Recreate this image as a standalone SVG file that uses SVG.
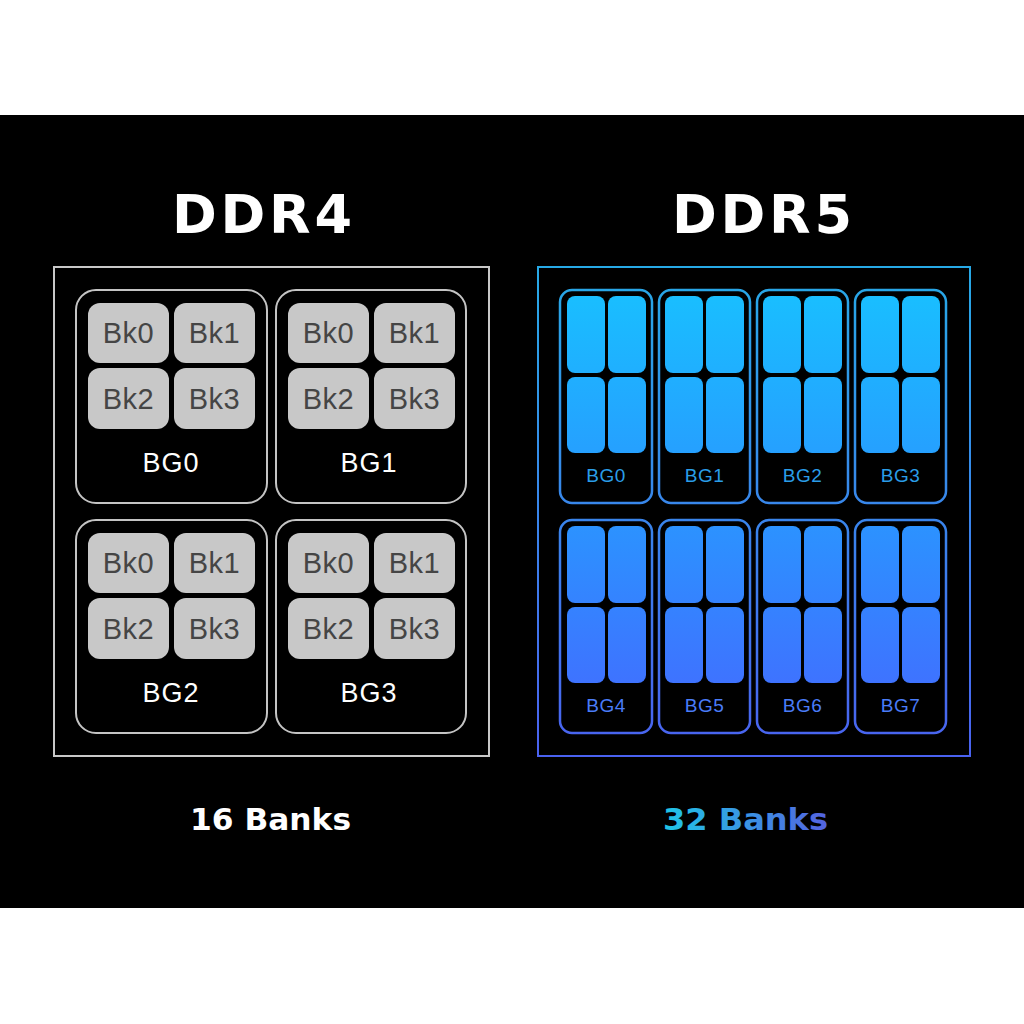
<svg xmlns="http://www.w3.org/2000/svg" width="1024" height="1024" viewBox="0 0 1024 1024">
<defs>
<linearGradient id="bankGrad" gradientUnits="userSpaceOnUse" x1="0" y1="290" x2="0" y2="733">
<stop offset="0" stop-color="#19bfff"/>
<stop offset="0.5" stop-color="#2a95ff"/>
<stop offset="1" stop-color="#4469ff"/>
</linearGradient>
<linearGradient id="strokeGrad" gradientUnits="userSpaceOnUse" x1="0" y1="267" x2="0" y2="756">
<stop offset="0" stop-color="#27a9e6"/>
<stop offset="1" stop-color="#4a62f0"/>
</linearGradient>
<linearGradient id="textGrad" gradientUnits="userSpaceOnUse" x1="663" y1="0" x2="828" y2="0">
<stop offset="0" stop-color="#1fc6e6"/>
<stop offset="1" stop-color="#5462e0"/>
</linearGradient>
</defs>
<style>
.title{font-family:"DejaVu Sans","Liberation Sans",sans-serif;font-weight:bold;font-size:54px;fill:#ffffff;text-anchor:middle}
.count{font-family:"DejaVu Sans","Liberation Sans",sans-serif;font-weight:bold;font-size:31px;text-anchor:middle}
.g4{fill:#000;stroke:#c4c4c4;stroke-width:2}
.bk4{fill:#c8c8c8}
.bkt{font-family:"Liberation Sans",Arial,sans-serif;font-size:29px;fill:#454545;text-anchor:middle;letter-spacing:0.5px}
.bgt4{font-family:"Liberation Sans",Arial,sans-serif;font-size:27px;fill:#ffffff;text-anchor:middle;letter-spacing:1px}
.g5{fill:#000;stroke:url(#strokeGrad);stroke-width:2.5}
.bk5{fill:url(#bankGrad)}
.bgt5{font-family:"Liberation Sans",Arial,sans-serif;font-size:19px;text-anchor:middle;letter-spacing:0.5px}
</style>
<rect x="0" y="0" width="1024" height="1024" fill="#ffffff"/>
<rect x="0" y="115" width="1024" height="793" fill="#000000"/>

<text class="title" x="262" y="233" textLength="180" lengthAdjust="spacing">DDR4</text>
<text class="title" x="762" y="233" textLength="180" lengthAdjust="spacing">DDR5</text>

<g id="ddr4">
<rect x="54" y="267" width="435" height="489" fill="none" stroke="#c8c8c8" stroke-width="2"/>
<g id="ddr4-bg0">
<rect class="g4" x="76" y="290" width="191" height="213" rx="20"/>
<rect class="bk4" x="88" y="303" width="81" height="60" rx="12"/>
<rect class="bk4" x="174" y="303" width="81" height="60" rx="12"/>
<rect class="bk4" x="88" y="368" width="81" height="61" rx="12"/>
<rect class="bk4" x="174" y="368" width="81" height="61" rx="12"/>
<text class="bkt" x="128.5" y="343">Bk0</text>
<text class="bkt" x="214.5" y="343">Bk1</text>
<text class="bkt" x="128.5" y="409">Bk2</text>
<text class="bkt" x="214.5" y="409">Bk3</text>
<text class="bgt4" x="171" y="472">BG0</text>
</g>
<g id="ddr4-bg1">
<rect class="g4" x="276" y="290" width="190" height="213" rx="20"/>
<rect class="bk4" x="288" y="303" width="81" height="60" rx="12"/>
<rect class="bk4" x="374" y="303" width="81" height="60" rx="12"/>
<rect class="bk4" x="288" y="368" width="81" height="61" rx="12"/>
<rect class="bk4" x="374" y="368" width="81" height="61" rx="12"/>
<text class="bkt" x="328.5" y="343">Bk0</text>
<text class="bkt" x="414.5" y="343">Bk1</text>
<text class="bkt" x="328.5" y="409">Bk2</text>
<text class="bkt" x="414.5" y="409">Bk3</text>
<text class="bgt4" x="369" y="472">BG1</text>
</g>
<g id="ddr4-bg2">
<rect class="g4" x="76" y="520" width="191" height="213" rx="20"/>
<rect class="bk4" x="88" y="533" width="81" height="60" rx="12"/>
<rect class="bk4" x="174" y="533" width="81" height="60" rx="12"/>
<rect class="bk4" x="88" y="598" width="81" height="61" rx="12"/>
<rect class="bk4" x="174" y="598" width="81" height="61" rx="12"/>
<text class="bkt" x="128.5" y="573">Bk0</text>
<text class="bkt" x="214.5" y="573">Bk1</text>
<text class="bkt" x="128.5" y="639">Bk2</text>
<text class="bkt" x="214.5" y="639">Bk3</text>
<text class="bgt4" x="171" y="702">BG2</text>
</g>
<g id="ddr4-bg3">
<rect class="g4" x="276" y="520" width="190" height="213" rx="20"/>
<rect class="bk4" x="288" y="533" width="81" height="60" rx="12"/>
<rect class="bk4" x="374" y="533" width="81" height="60" rx="12"/>
<rect class="bk4" x="288" y="598" width="81" height="61" rx="12"/>
<rect class="bk4" x="374" y="598" width="81" height="61" rx="12"/>
<text class="bkt" x="328.5" y="573">Bk0</text>
<text class="bkt" x="414.5" y="573">Bk1</text>
<text class="bkt" x="328.5" y="639">Bk2</text>
<text class="bkt" x="414.5" y="639">Bk3</text>
<text class="bgt4" x="369" y="702">BG3</text>
</g>
</g>

<g id="ddr5">
<rect x="538" y="267" width="432" height="489" fill="none" stroke="url(#strokeGrad)" stroke-width="2"/>
<g id="ddr5-bg0">
<rect class="g5" x="560" y="290" width="92" height="213" rx="12"/>
<rect class="bk5" x="567" y="296" width="38" height="77" rx="8"/>
<rect class="bk5" x="608" y="296" width="38" height="77" rx="8"/>
<rect class="bk5" x="567" y="377" width="38" height="76" rx="8"/>
<rect class="bk5" x="608" y="377" width="38" height="76" rx="8"/>
<text class="bgt5" x="606" y="482" fill="#2a9de8">BG0</text>
</g>
<g id="ddr5-bg1">
<rect class="g5" x="659" y="290" width="91" height="213" rx="12"/>
<rect class="bk5" x="665" y="296" width="38" height="77" rx="8"/>
<rect class="bk5" x="706" y="296" width="38" height="77" rx="8"/>
<rect class="bk5" x="665" y="377" width="38" height="76" rx="8"/>
<rect class="bk5" x="706" y="377" width="38" height="76" rx="8"/>
<text class="bgt5" x="704.5" y="482" fill="#2a9de8">BG1</text>
</g>
<g id="ddr5-bg2">
<rect class="g5" x="757" y="290" width="91" height="213" rx="12"/>
<rect class="bk5" x="763" y="296" width="38" height="77" rx="8"/>
<rect class="bk5" x="804" y="296" width="38" height="77" rx="8"/>
<rect class="bk5" x="763" y="377" width="38" height="76" rx="8"/>
<rect class="bk5" x="804" y="377" width="38" height="76" rx="8"/>
<text class="bgt5" x="802.5" y="482" fill="#2a9de8">BG2</text>
</g>
<g id="ddr5-bg3">
<rect class="g5" x="855" y="290" width="91" height="213" rx="12"/>
<rect class="bk5" x="861" y="296" width="38" height="77" rx="8"/>
<rect class="bk5" x="902" y="296" width="38" height="77" rx="8"/>
<rect class="bk5" x="861" y="377" width="38" height="76" rx="8"/>
<rect class="bk5" x="902" y="377" width="38" height="76" rx="8"/>
<text class="bgt5" x="900.5" y="482" fill="#2a9de8">BG3</text>
</g>
<g id="ddr5-bg4">
<rect class="g5" x="560" y="520" width="92" height="213" rx="12"/>
<rect class="bk5" x="567" y="526" width="38" height="77" rx="8"/>
<rect class="bk5" x="608" y="526" width="38" height="77" rx="8"/>
<rect class="bk5" x="567" y="607" width="38" height="76" rx="8"/>
<rect class="bk5" x="608" y="607" width="38" height="76" rx="8"/>
<text class="bgt5" x="606" y="712" fill="#4a7cf8">BG4</text>
</g>
<g id="ddr5-bg5">
<rect class="g5" x="659" y="520" width="91" height="213" rx="12"/>
<rect class="bk5" x="665" y="526" width="38" height="77" rx="8"/>
<rect class="bk5" x="706" y="526" width="38" height="77" rx="8"/>
<rect class="bk5" x="665" y="607" width="38" height="76" rx="8"/>
<rect class="bk5" x="706" y="607" width="38" height="76" rx="8"/>
<text class="bgt5" x="704.5" y="712" fill="#4a7cf8">BG5</text>
</g>
<g id="ddr5-bg6">
<rect class="g5" x="757" y="520" width="91" height="213" rx="12"/>
<rect class="bk5" x="763" y="526" width="38" height="77" rx="8"/>
<rect class="bk5" x="804" y="526" width="38" height="77" rx="8"/>
<rect class="bk5" x="763" y="607" width="38" height="76" rx="8"/>
<rect class="bk5" x="804" y="607" width="38" height="76" rx="8"/>
<text class="bgt5" x="802.5" y="712" fill="#4a7cf8">BG6</text>
</g>
<g id="ddr5-bg7">
<rect class="g5" x="855" y="520" width="91" height="213" rx="12"/>
<rect class="bk5" x="861" y="526" width="38" height="77" rx="8"/>
<rect class="bk5" x="902" y="526" width="38" height="77" rx="8"/>
<rect class="bk5" x="861" y="607" width="38" height="76" rx="8"/>
<rect class="bk5" x="902" y="607" width="38" height="76" rx="8"/>
<text class="bgt5" x="900.5" y="712" fill="#4a7cf8">BG7</text>
</g>
</g>

<text class="count" x="270.5" y="830" fill="#ffffff" textLength="161" lengthAdjust="spacingAndGlyphs">16 Banks</text>
<text class="count" x="745.5" y="830" fill="url(#textGrad)" textLength="165" lengthAdjust="spacingAndGlyphs">32 Banks</text>
</svg>
